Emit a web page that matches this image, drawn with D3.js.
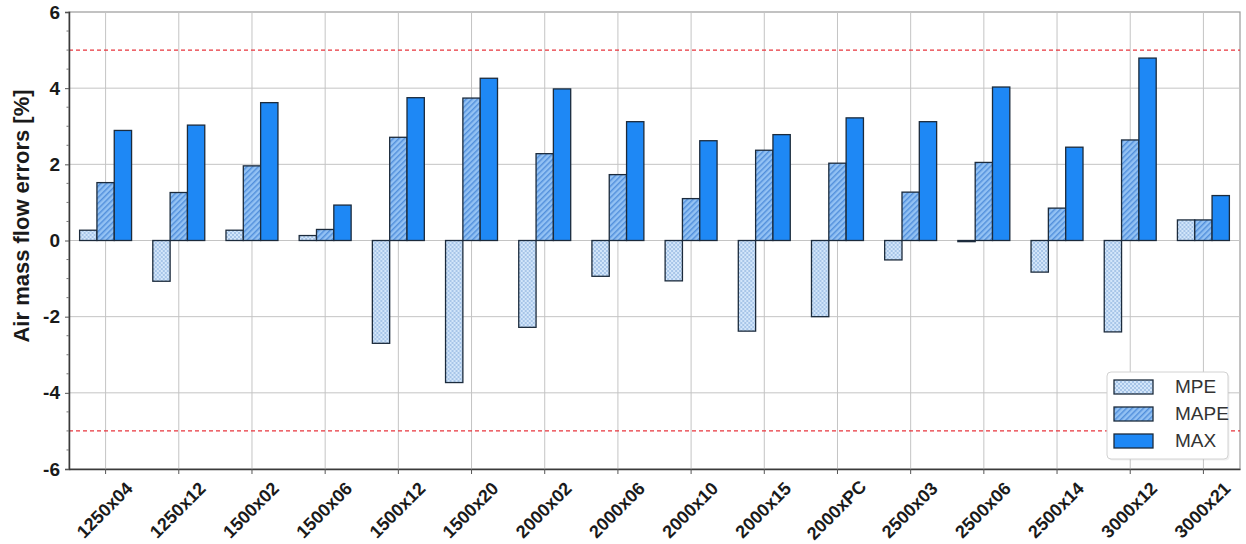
<!DOCTYPE html>
<html>
<head>
<meta charset="utf-8">
<script src="https://cdn.jsdelivr.net/npm/d3@7"></script>
<style>
  html, body { margin: 0; padding: 0; background: #fff; }
  svg { display: block; }
  text { font-family: "Liberation Sans", Arial, Helvetica, sans-serif; }
</style>
</head>
<body>
<svg id="chart" width="1246" height="544"></svg>
<script>
// Engine configurations (x axis)
const categories = ["1250x04", "1250x12", "1500x02", "1500x06", "1500x12", "1500x20",
  "2000x02", "2000x06", "2000x10", "2000x15", "2000xPC", "2500x03",
  "2500x06", "2500x14", "3000x12", "3000x21"];

// Error metrics per configuration, in percent
const seriesNames = ["MPE", "MAPE", "MAX"];
const mpe  = [0.27, -1.07, 0.27, 0.13, -2.70, -3.73, -2.28, -0.94, -1.06, -2.38, -2.00, -0.51, -0.03, -0.83, -2.40, 0.54];
const mape = [1.52, 1.26, 1.96, 0.29, 2.71, 3.74, 2.28, 1.73, 1.10, 2.37, 2.03, 1.27, 2.05, 0.85, 2.64, 0.54];
const maxe = [2.89, 3.03, 3.62, 0.93, 3.75, 4.26, 3.98, 3.12, 2.62, 2.78, 3.22, 3.12, 4.03, 2.45, 4.79, 1.18];

// Axis ticks and tolerance limits
const yMajorTicks = [-6, -4, -2, 0, 2, 4, 6];
const yMinorTicks = d3.range(-6, 6.01, 0.5);
const limits = [5, -5];

const seriesValues = { MPE: mpe, MAPE: mape, MAX: maxe };
const rows = categories.map((c, i) => ({
  cat: c,
  vals: seriesNames.map(s => ({ key: s, value: seriesValues[s][i] }))
}));

const svg = d3.select("#chart");
const margin = { left: 69, right: 6, top: 12, bottom: 75 };
const W = 1246, H = 544;
const x0 = margin.left, x1 = W - margin.right;
const yTop = margin.top, yBot = H - margin.bottom;

const x = d3.scaleBand().domain(categories).range([x0, x1])
  .paddingInner(0.29).paddingOuter(0.145);
const xs = d3.scaleBand().domain(seriesNames).range([0, x.bandwidth()]);
const y = d3.scaleLinear().domain([-6, 6]).range([yBot, yTop]);

// Fill patterns
const defs = svg.append("defs");
const dots = defs.append("pattern").attr("id", "pat-mpe")
  .attr("patternUnits", "userSpaceOnUse").attr("width", 4).attr("height", 4);
dots.append("rect").attr("width", 4).attr("height", 4).attr("fill", "#d3e6fa");
dots.append("circle").attr("cx", 1).attr("cy", 1).attr("r", 0.7).attr("fill", "#5a8bc9");
dots.append("circle").attr("cx", 3).attr("cy", 3).attr("r", 0.7).attr("fill", "#5a8bc9");

const hatch = defs.append("pattern").attr("id", "pat-mape")
  .attr("patternUnits", "userSpaceOnUse").attr("width", 4).attr("height", 4)
  .attr("patternTransform", "rotate(45)");
hatch.append("rect").attr("width", 4).attr("height", 4).attr("fill", "#93c2f4");
hatch.append("line").attr("x1", 0.8).attr("y1", 0).attr("x2", 0.8).attr("y2", 4)
  .attr("stroke", "#3c7fd4").attr("stroke-width", 1.1);

const fills = { MPE: "url(#pat-mpe)", MAPE: "url(#pat-mape)", MAX: "#1e88f5" };

// Plot frame (top / right)
svg.append("rect").attr("x", x0).attr("y", yTop).attr("width", x1 - x0).attr("height", yBot - yTop)
  .attr("fill", "none").attr("stroke", "#9a9a9a").attr("stroke-width", 1.2);

// Grid
const grid = svg.append("g");
grid.selectAll("line.h").data(yMajorTicks.filter(t => t > -6 && t < 6)).join("line")
  .attr("x1", x0).attr("x2", x1).attr("y1", d => y(d)).attr("y2", d => y(d))
  .attr("stroke", "#c4c4c4").attr("stroke-width", 1);
grid.selectAll("line.v").data(categories).join("line")
  .attr("x1", d => x(d) + x.bandwidth() / 2).attr("x2", d => x(d) + x.bandwidth() / 2)
  .attr("y1", yTop).attr("y2", yBot)
  .attr("stroke", "#c4c4c4").attr("stroke-width", 1);

// Tolerance limits
svg.selectAll("line.limit").data(limits).join("line")
  .attr("x1", x0).attr("x2", x1).attr("y1", d => y(d)).attr("y2", d => y(d))
  .attr("stroke", "#e8343c").attr("stroke-width", 1.2).attr("stroke-dasharray", "4,3");

// Bars
const groups = svg.append("g").selectAll("g").data(rows).join("g")
  .attr("transform", d => `translate(${x(d.cat)},0)`);
groups.selectAll("rect").data(d => d.vals).join("rect")
  .attr("x", d => xs(d.key))
  .attr("width", xs.bandwidth())
  .attr("y", d => y(Math.max(0, d.value)))
  .attr("height", d => Math.abs(y(d.value) - y(0)))
  .attr("fill", d => fills[d.key])
  .attr("stroke", "#1c2b3c").attr("stroke-width", 1.3);

// Y axis
const yAxis = svg.append("g").attr("transform", `translate(${x0},0)`)
  .call(d3.axisLeft(y).tickValues(yMajorTicks).tickSize(4).tickPadding(5).tickFormat(d => String(d)));
yAxis.select(".domain").attr("stroke", "#3a3a3a").attr("stroke-width", 1.5);
yAxis.selectAll(".tick line").attr("stroke", "#555");
yAxis.selectAll(".tick text").attr("font-size", 19).attr("font-weight", "bold").attr("fill", "#1a1a1a");
svg.append("g").selectAll("line").data(yMinorTicks.filter(t => !yMajorTicks.includes(t))).join("line")
  .attr("x1", x0 - 2.5).attr("x2", x0).attr("y1", d => y(d)).attr("y2", d => y(d))
  .attr("stroke", "#777");

// X axis
const xAxis = svg.append("g").attr("transform", `translate(0,${yBot})`)
  .call(d3.axisBottom(x).tickSize(5).tickSizeOuter(0));
xAxis.select(".domain").attr("stroke", "#3a3a3a").attr("stroke-width", 1.5);
xAxis.selectAll(".tick line").attr("stroke", "#555");
xAxis.selectAll(".tick text")
  .attr("font-size", 18).attr("font-weight", "bold").attr("fill", "#1a1a1a")
  .attr("text-anchor", "middle").attr("dy", null)
  .attr("transform", "translate(0,42) rotate(-45)")
  .attr("y", 0).attr("dominant-baseline", "middle");

// Y title
svg.append("text")
  .attr("transform", `translate(29,216) rotate(-90)`)
  .attr("text-anchor", "middle")
  .attr("font-size", 22).attr("font-weight", "bold").attr("fill", "#1a1a1a")
  .text("Air mass flow errors [%]");

// Legend
const lg = svg.append("g").attr("transform", "translate(1107,372)");
lg.append("rect").attr("x", 1.5).attr("y", 1.5).attr("width", 121).attr("height", 87).attr("rx", 4)
  .attr("fill", "#000").attr("opacity", 0.06);
lg.append("rect").attr("width", 121).attr("height", 87).attr("rx", 4)
  .attr("fill", "#fff").attr("stroke", "#d2d2d2").attr("stroke-width", 1);
const li = lg.selectAll("g.item").data(seriesNames).join("g")
  .attr("transform", (d, i) => `translate(7,${15 + i * 27})`);
li.append("rect").attr("width", 39).attr("height", 14).attr("y", -7)
  .attr("fill", d => fills[d]).attr("stroke", "#1c2b3c").attr("stroke-width", 1.3);
li.append("text").attr("x", 61).attr("y", 1).attr("dominant-baseline", "middle")
  .attr("font-size", 19).attr("fill", "#333").text(d => d);
</script>
</body>
</html>
